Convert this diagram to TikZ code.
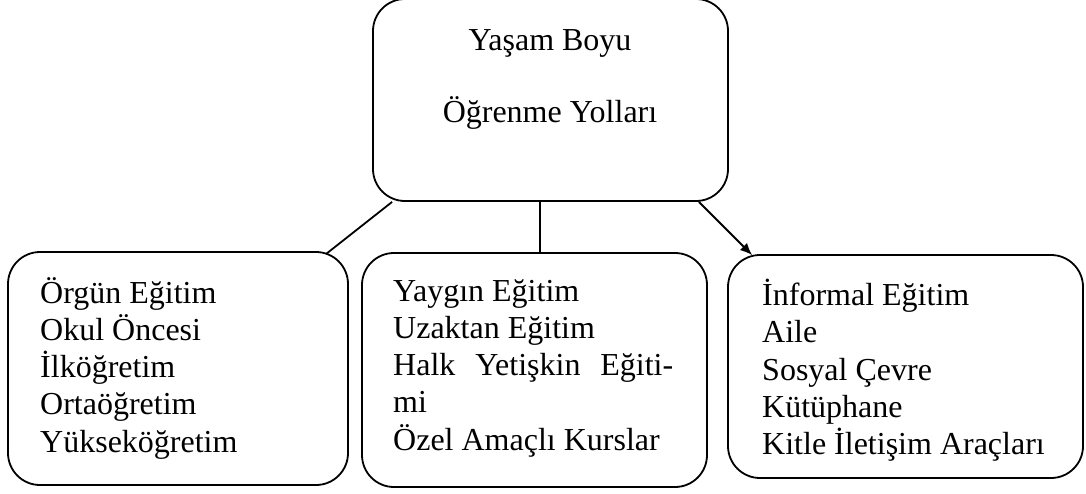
\documentclass[tikz,border=0pt]{standalone}
\usepackage{fontspec}
\setmainfont{Liberation Serif}
\usetikzlibrary{arrows.meta,calc}
\begin{document}
\begin{tikzpicture}[x=1pt,y=1pt,
  box/.style={draw=black, line width=1.8pt, rounded corners=32pt, fill=white, inner sep=0pt},
  txt/.style={inner sep=0pt, align=left, anchor=north west, font=\fontsize{32}{37.25}\selectfont},
  conn/.style={draw=black, line width=1.8pt}]
\useasboundingbox (0,0) rectangle (1086,-493);
% boxes
\node[box, minimum width=355pt, minimum height=202pt] (top) at (550.5,-100) {};
\node[box, minimum width=340pt, minimum height=233pt] (lb) at (178,-368.5) {};
\node[box, minimum width=345pt, minimum height=234pt] (mb) at (534.5,-370) {};
\node[box, minimum width=355pt, minimum height=223pt] (rb) at (905.5,-366.5) {};
% texts
\node[inner sep=0pt, anchor=base, font=\fontsize{32}{37.25}\selectfont] (t1) at (550,-50) {Yaşam Boyu};
\node[inner sep=0pt, anchor=base, font=\fontsize{32}{37.25}\selectfont] (t2) at (550,-122) {Öğrenme Yolları};
\node[txt] (lt) at (40,-277) {Örgün Eğitim\\Okul Öncesi\\İlköğretim\\Ortaöğretim\\Yükseköğretim};
\node[txt] (mt) at (393,-279) {Yaygın Eğitim\\Uzaktan Eğitim\\\makebox[280pt][s]{Halk Yetişkin Eğiti-}\\mi\\Özel Amaçlı Kurslar};
\node[txt] (rt) at (762,-279) {İnformal Eğitim\\Aile\\Sosyal Çevre\\Kütüphane\\Kitle İletişim Araçları};
% connectors
\draw[conn] ($(top.south west)+(20,0)$) -- ($(lb.north east)+(-23,-3)$);
\draw[conn] ($(top.south west)+(168,0)$) -- ($(mb.north west)+(179,0)$);
\draw[conn, -{Latex[length=12pt,width=10pt]}] ($(top.south east)+(-30,0)$) -- ($(rb.north west)+(25,-1)$);
\end{tikzpicture}
\end{document}
